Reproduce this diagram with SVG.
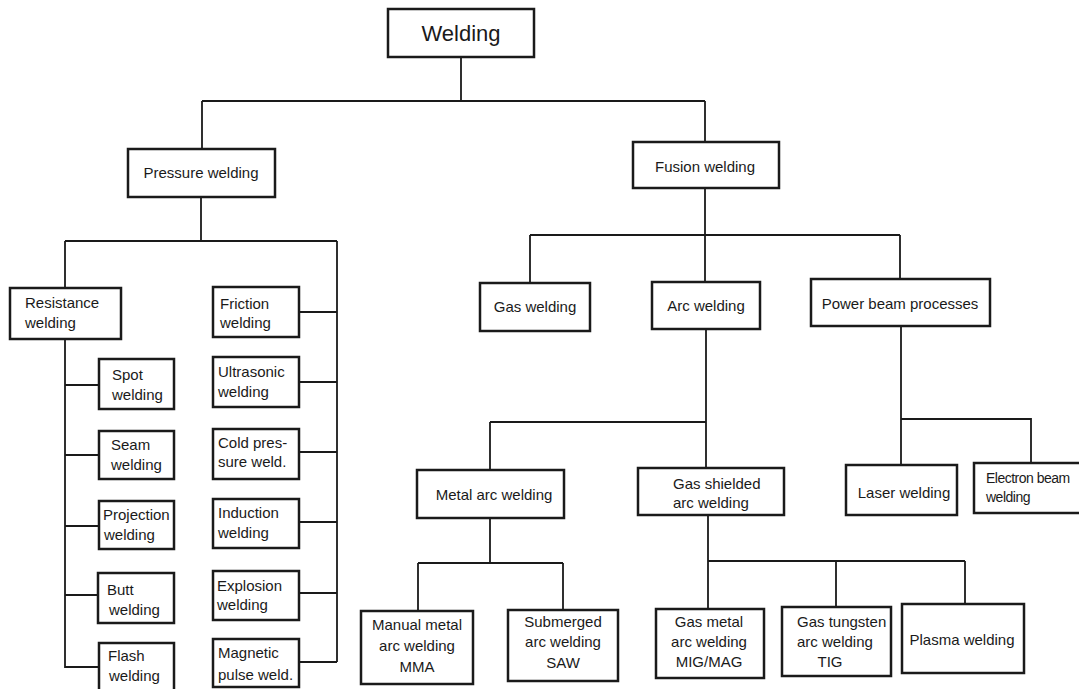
<svg xmlns="http://www.w3.org/2000/svg" width="1079" height="689" viewBox="0 0 1079 689">
<style>
.box{fill:#fff;stroke:#1a1a1a;stroke-width:2.5}
.ln{fill:none;stroke:#1a1a1a;stroke-width:1.8}
text{font-family:"Liberation Sans",Arial,sans-serif;font-size:15px;fill:#1a1a1a}
.c{text-anchor:middle}
.n{font-size:14px;letter-spacing:-0.5px}
</style>
<rect width="1079" height="689" fill="#fff"/>
<g id="connectors">
<path class="ln" d="M461,57V101M202,101H705M202,101V149M705,101V142"/>
<path class="ln" d="M201,197V241M65,241H337M65,241V288M65,339V667H99M65,385H99M65,455H99M65,526H99M65,595H99"/>
<path class="ln" d="M337,241V662M299,312H337M299,382H337M299,452H337M299,522H337M299,593H337M299,662H337"/>
<path class="ln" d="M705,188V282M530,235H900M530,235V283M900,235V279"/>
<path class="ln" d="M706,329V468M490,422H706M490,422V470"/>
<path class="ln" d="M490,518V563M418,563H563M418,563V611M563,563V610"/>
<path class="ln" d="M708,515V609M708,561H965M836,561V607M965,561V604"/>
<path class="ln" d="M901,326V465M901,419H1031V463"/>
</g>
<g id="welding"><rect class="box" x="388" y="9" width="146" height="48"/><text class="c" x="461" y="41" style="font-size:22px">Welding</text></g>
<g id="pressure"><rect class="box" x="128" y="149" width="147" height="48"/><text class="c" x="201" y="178">Pressure welding</text></g>
<g id="fusion"><rect class="box" x="633" y="142" width="146" height="46"/><text class="c" x="705" y="172">Fusion welding</text></g>
<g id="resistance"><rect class="box" x="10" y="288" width="111" height="51"/><text x="25" y="308">Resistance</text><text x="25" y="328">welding</text></g>
<g id="spot"><rect class="box" x="99" y="359" width="75" height="50"/><text x="112" y="380">Spot</text><text x="112" y="400">welding</text></g>
<g id="seam"><rect class="box" x="99" y="431" width="75" height="48"/><text x="111" y="450">Seam</text><text x="111" y="470">welding</text></g>
<g id="projection"><rect class="box" x="99" y="501" width="75" height="48"/><text x="103" y="520">Projection</text><text x="104" y="540">welding</text></g>
<g id="butt"><rect class="box" x="98" y="573" width="76" height="50"/><text x="107" y="595">Butt</text><text x="109" y="615">welding</text></g>
<g id="flash"><rect class="box" x="99" y="643" width="75" height="52"/><text x="108" y="661">Flash</text><text x="109" y="681">welding</text></g>
<g id="friction"><rect class="box" x="213" y="287" width="86" height="50"/><text x="220" y="309">Friction</text><text x="220" y="328">welding</text></g>
<g id="ultrasonic"><rect class="box" x="213" y="357" width="86" height="50"/><text x="218" y="377">Ultrasonic</text><text x="218" y="397">welding</text></g>
<g id="coldpressure"><rect class="box" x="213" y="429" width="86" height="50"/><text x="218" y="448">Cold pres-</text><text x="218" y="467">sure weld.</text></g>
<g id="induction"><rect class="box" x="213" y="499" width="86" height="49"/><text x="218" y="518">Induction</text><text x="218" y="538">welding</text></g>
<g id="explosion"><rect class="box" x="213" y="571" width="86" height="49"/><text x="217" y="591">Explosion</text><text x="217" y="610">welding</text></g>
<g id="magnetic"><rect class="box" x="213" y="639" width="86" height="48"/><text x="218" y="658">Magnetic</text><text x="218" y="680">pulse weld.</text></g>
<g id="gas"><rect class="box" x="480" y="283" width="110" height="48"/><text class="c" x="535" y="312">Gas welding</text></g>
<g id="arc"><rect class="box" x="652" y="282" width="108" height="47"/><text class="c" x="706" y="311">Arc welding</text></g>
<g id="powerbeam"><rect class="box" x="811" y="279" width="179" height="47"/><text class="c" x="900" y="309">Power beam processes</text></g>
<g id="metalarc"><rect class="box" x="417" y="470" width="147" height="48"/><text class="c" x="494" y="500">Metal arc welding</text></g>
<g id="gasshielded"><rect class="box" x="638" y="468" width="146" height="47"/><text x="673" y="489">Gas shielded</text><text x="673" y="508">arc welding</text></g>
<g id="laser"><rect class="box" x="846" y="465" width="111" height="50"/><text class="c" x="904" y="498">Laser welding</text></g>
<g id="electron"><rect class="box" x="974" y="463" width="112" height="50"/><text class="n" x="986" y="483">Electron beam</text><text class="n" x="986" y="502">welding</text></g>
<g id="mma"><rect class="box" x="361" y="611" width="112" height="73"/><text class="c" x="417" y="630">Manual metal</text><text class="c" x="417" y="651">arc welding</text><text class="c" x="417" y="672">MMA</text></g>
<g id="saw"><rect class="box" x="508" y="610" width="110" height="71"/><text class="c" x="563" y="627">Submerged</text><text class="c" x="563" y="647">arc welding</text><text class="c" x="563" y="668">SAW</text></g>
<g id="mig"><rect class="box" x="656" y="609" width="108" height="69"/><text class="c" x="709" y="627">Gas metal</text><text class="c" x="709" y="647">arc welding</text><text class="c" x="709" y="667">MIG/MAG</text></g>
<g id="tig"><rect class="box" x="782" y="607" width="109" height="69"/><text x="797" y="627">Gas tungsten</text><text x="797" y="647">arc welding</text><text class="c" x="830" y="667">TIG</text></g>
<g id="plasma"><rect class="box" x="902" y="604" width="122" height="69"/><text class="c" x="962" y="645">Plasma welding</text></g>
</svg>
